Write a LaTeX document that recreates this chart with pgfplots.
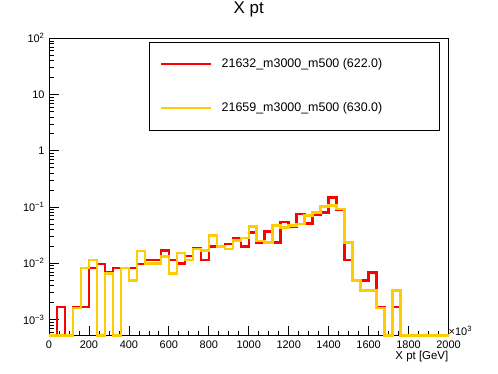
\documentclass[border=0pt]{standalone}
\usepackage{fontspec}
\setmainfont{Liberation Sans}
\usepackage{pgfplots}
\usepackage{pgfplotstable}
\pgfplotsset{compat=1.18}
\definecolor{rootred}{RGB}{255,0,0}
\definecolor{rootyel}{RGB}{255,204,0}
\pgfplotstableread{
x y
0 5.2e-4
40 1.68e-3
80 5.2e-4
120 1.68e-3
160 1.68e-3
200 8.3e-3
240 9.8e-3
280 6.8e-3
320 8.3e-3
360 8.3e-3
400 8.3e-3
440 9.8e-3
480 0.0115
520 0.0115
560 0.0168
600 0.0115
640 0.0100
680 0.0135
720 0.0182
760 0.0115
800 0.0198
840 0.0198
880 0.0218
920 0.0283
960 0.0198
1000 0.0351
1040 0.0233
1080 0.0366
1120 0.0233
1160 0.0546
1200 0.045
1240 0.075
1280 0.051
1320 0.072
1360 0.080
1400 0.148
1440 0.0895
1480 0.0114
1520 0.0049
1560 0.0049
1600 0.0068
1640 0.00168
1680 5.2e-4
1720 0.00168
1760 5.2e-4
1800 5.2e-4
1840 5.2e-4
1880 5.2e-4
1920 5.2e-4
1960 5.2e-4
2000 5.2e-4
}\redtab
\pgfplotstableread{
x y
0 5.2e-4
40 5.2e-4
80 5.2e-4
120 1.6e-3
160 8.3e-3
200 0.0115
240 5.2e-4
280 6.6e-3
320 5.2e-4
360 8.3e-3
400 4.9e-3
440 0.0166
480 0.0100
520 0.0100
560 0.0131
600 0.0066
640 0.0151
680 0.0115
720 0.0180
760 0.0168
800 0.0311
840 0.0198
880 0.0180
920 0.0253
960 0.0283
1000 0.0450
1040 0.0250
1080 0.0233
1120 0.0469
1160 0.0433
1200 0.0469
1240 0.0504
1280 0.0709
1320 0.0800
1360 0.1026
1400 0.107
1440 0.093
1480 0.0233
1520 0.0049
1560 0.00325
1600 0.00325
1640 0.0016
1680 5.2e-4
1720 0.00325
1760 5.2e-4
1800 5.2e-4
1840 5.2e-4
1880 5.2e-4
1920 5.2e-4
1960 5.2e-4
2000 5.2e-4
}\yeltab
\begin{document}
\begin{tikzpicture}
\path[use as bounding box] (-49bp,-38.5bp) rectangle (449bp,335.5bp);
\begin{axis}[
  at={(0,0)}, anchor=south west,
  scale only axis,
  width=399.5bp, height=297.2bp,
  xmin=0, xmax=2000,
  ymode=log, ymin=5.2e-4, ymax=100,
  clip=false,
  axis line style={line width=0.75bp},
  every tick/.style={line width=0.75bp, black},
  tick align=inside,
  tick pos=left,
  major tick length=10bp,
  minor tick length=5bp,
  xtick={0,200,...,2000},
  xticklabels={0,200,400,600,800,1000,1200,1400,1600,1800,2000},
  minor x tick num=3,
  ytick={1e-3,1e-2,1e-1,1,10,100},
  yticklabels={10\textsuperscript{−3},10\textsuperscript{−2},10\textsuperscript{−1},1,10,10\textsuperscript{2}},
  minor ytick={6e-4,7e-4,8e-4,9e-4,2e-3,3e-3,4e-3,5e-3,6e-3,7e-3,8e-3,9e-3,2e-2,3e-2,4e-2,5e-2,6e-2,7e-2,8e-2,9e-2,0.2,0.3,0.4,0.5,0.6,0.7,0.8,0.9,2,3,4,5,6,7,8,9,20,30,40,50,60,70,80,90},
  ticklabel style={font=\fontsize{11}{13}\selectfont},
  xticklabel style={yshift=-2bp},
  yticklabel style={xshift=-1bp},
  xlabel={X pt [GeV]},
  xlabel style={at={(rel axis cs:1,0)}, anchor=east, yshift=-21bp, inner sep=0pt, font=\fontsize{11.5}{13}\selectfont},
  title={X pt},
  title style={at={(rel axis cs:0.5,1)}, anchor=center, yshift=23bp, font=\fontsize{17}{20}\selectfont},
  legend cell align=left,
  legend image code/.code={\path[draw=none,fill=none] (0bp,-22bp) rectangle (72bp,22bp); \draw[#1, line width=2.5bp] (11bp,0bp) -- (61bp,0bp);},
  legend style={at={(0.2511,0.9886)}, anchor=north west, draw=black, line width=0.75bp,
    inner xsep=0pt, inner ysep=0pt, row sep=0pt, column sep=0pt,
    font=\fontsize{12.5}{15}\selectfont, nodes={inner sep=0pt}},
]
\addplot[const plot mark left, rootred, line width=2.5bp, line join=miter] table[x=x,y=y] {\redtab};
\addlegendentry{\makebox[218bp][l]{21632\_m3000\_m500 (622.0)}}
\addplot[const plot mark left, rootyel, line width=2.5bp, line join=miter] table[x=x,y=y] {\yeltab};
\addlegendentry{\makebox[218bp][l]{21659\_m3000\_m500 (630.0)}}
\node[anchor=south west, inner sep=0pt, font=\fontsize{11}{13}\selectfont] at (rel axis cs:1,0) {×10\textsuperscript{3}};
\end{axis}
\end{tikzpicture}
\end{document}
